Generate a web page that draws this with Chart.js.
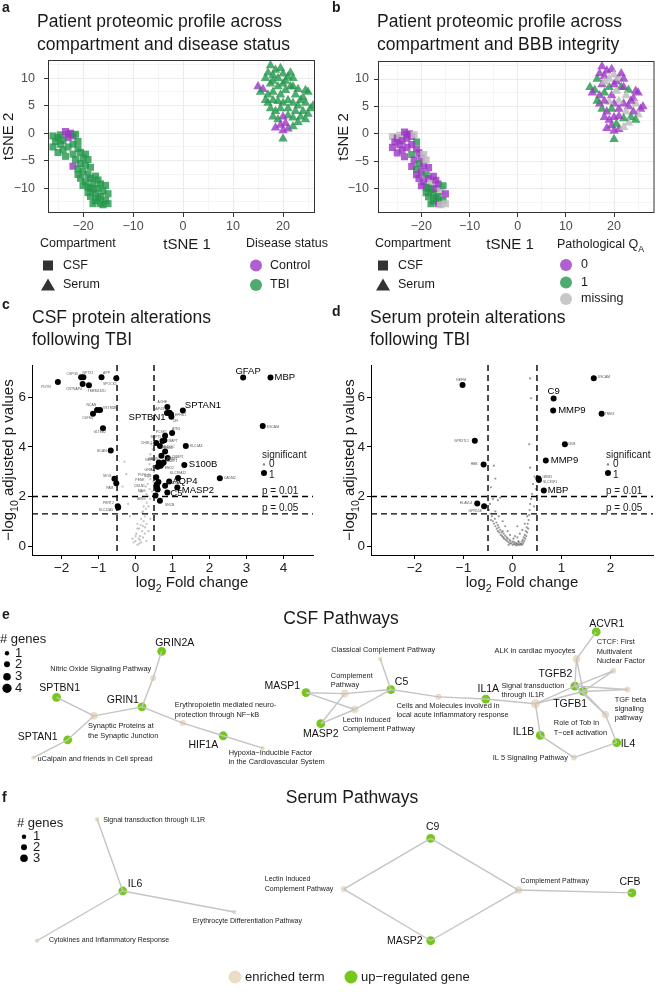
<!DOCTYPE html>
<html>
<head>
<meta charset="utf-8">
<script src="https://cdn.jsdelivr.net/npm/chart.js@4.4.1/dist/chart.umd.min.js"></script>
<style>
  body { margin: 0; background: #fff; }
  #page { position: relative; width: 660px; height: 992px; overflow: hidden; background: #fff; }
  canvas { position: absolute; }
</style>
</head>
<body>
<div id="page">
  <canvas id="pa" width="330" height="305" style="left:0;top:0"></canvas>
  <canvas id="pb" width="330" height="305" style="left:330px;top:0"></canvas>
  <canvas id="pc" width="330" height="310" style="left:0;top:300px"></canvas>
  <canvas id="pd" width="330" height="310" style="left:330px;top:300px"></canvas>
  <canvas id="pe" width="660" height="180" style="left:0;top:610px"></canvas>
  <canvas id="pf" width="660" height="202" style="left:0;top:790px"></canvas>
</div>
<script>
const FONT = '"Liberation Sans", Arial, Helvetica, sans-serif';
Chart.defaults.font.family = FONT;

// ---------- a / b : tSNE embedding ----------
const csfX = [-26,-25.5,-26,-25,-24.5,-25,-24,-23.5,-24.5,-23, -22.5,-23.5,-22,-23,-21.5,-21,-22,-21,-20.5,-22,
  -21.5,-20,-19.5,-20.5,-22,-21,-19.5,-19,-18.5,-20, -19,-20.5,-19.5,-18.5,-18,-17.5,-17,-19,-18,-19,
  -18.5,-17.5,-17,-16.5,-16,-15.5,-16.5,-17.5,-16.5,-15.5, -15,-15,-18,-16,-17,-18.5,-20,-21,-23,-24];
const csfY = [-0.5,-1.5,-2.5,-0.8,-2,-3.5,-3,-4.2,-0.3,-0.2, 0,0.3,-0.5,-0.8,-0.2,-1.5,-2,-2.8,-3.5,-3.8,
  -4.8,-4.5,-3.8,-5.5,-6,-6.5,-5.8,-4.8,-6.2,-7, -7.5,-8.2,-8.8,-8.2,-9,-7.8,-8.5,-9.8,-10.2,-10.8,
  -11.5,-11,-10,-9.2,-10.5,-9.5,-11.5,-12.3,-12.8,-12.2, -11,-12.8,-12.8,-13,-11.8,-10,-9.5,-7.5,-2.5,-1.3];
const csfStatus = ['T','T','T','T','T','T','T','T','T','C', 'C','C','C','C','T','T','T','T','T','T',
  'T','T','T','T','C','T','T','T','T','T', 'T','T','T','T','T','T','T','T','T','T',
  'T','T','T','T','T','T','T','T','T','T', 'T','T','T','T','T','T','T','T','T','T'];
const csfQA = ['N','0','0','0','0','0','0','0','N','0', '0','0','0','0','N','1','0','0','0','1',
  '0','0','N','1','0','1','0','N','0','0', '1','0','0','0','N','0','0','1','1','1',
  '1','1','0','0','N','1','1','1','0','1', '0','N','1','N','1','1','0','0','0','0'];

const serumX = [15,16,15.5,16.5,17,17.5,18,17.5,18.5,19, 19.5,20,20.5,21,22,21.5,19,18,17,19.5,
  20.5,22,23,22.5,24,25,24.5,25.5,26,25, 24,23,22,21,20,19,18,17.5,18.5,19.5,
  21,22.5,23.5,24.5,23,22,21,20,19,18.5, 19.5,20,21,20.5,22,20,18,17,16.5,23.5, 24.5,21.5,18,20];
const serumY = [8.5,8,7.5,10,11,12.3,10.5,9,11.5,10, 11.8,10.8,9.5,10.2,10,8.5,8.5,7.5,7,7,
  7.8,8.5,8,7,6.5,7.5,5.5,4.5,5,3.5, 4,5,5.5,6,5.5,5.8,6,4.5,4,4.5,
  4.5,4,3,2.5,2,2.8,3.2,3,2.5,1, 1.5,0.5,0.8,1.8,1.2,-1,3,5.5,6,6, 7.8,11,9.5,9];
const serumStatus = ['C','C','T','T','T','T','T','T','T','T', 'T','T','T','T','T','T','T','T','T','T',
  'T','T','T','T','T','T','T','T','T','T', 'T','T','T','T','T','T','T','T','T','T',
  'T','T','T','T','T','T','T','C','T','C', 'C','C','C','C','T','T','T','T','T','T', 'T','T','T','T'];
const serumQA = ['1','1','0','1','0','0','0','0','0','N', '0','N','0','N','0','1','1','1','0','0',
  'N','0','1','N','0','0','N','0','0','N', '0','0','0','N','0','N','0','1','0','1',
  '0','N','1','1','N','1','0','0','0','0', '0','0','0','1','N','1','0','0','1','0', '0','0','N','0'];

// ---------- c / d : volcano plots ----------
const fcCut = [-0.5, 0.5];
const pCut = [2, 1.3];

const csfNsLfc = [0.05,0.1,0.0,0.08,0.15,0.12,0.02,0.18,0.1,0.2, 0.05,0.22,0.15,0.25,0.18,0.28,0.22,0.3,0.25,0.35,
  0.3,0.38,0.33,0.4,0.36,0.42,0.38,0.45,0.4,0.46, 0.43,0.48,0.5,-0.05,-0.08,0.0,0.12,0.2,0.25,0.3,
  0.32,0.14,0.26,0.35,0.4,0.45,0.2,0.28,0.34,-0.25, -0.35,-0.2,-0.15,-0.3,0.1,0.15,0.48,0.5,0.47,0.05, 0.3,0.35,0.4];
const csfNsP = [0.05,0.1,0.2,0.3,0.15,0.4,0.5,0.6,0.7,0.8, 0.9,1.0,1.1,1.2,1.35,1.5,1.6,1.75,1.9,2.0,
  2.1,2.3,2.5,2.7,2.9,3.1,3.3,3.5,3.7,3.9, 4.1,4.4,5.1,0.15,0.3,0.4,0.25,0.35,0.5,0.9,
  1.3,0.85,0.75,1.6,1.9,2.2,1.4,2.4,2.8,2.9, 2.4,1.7,1.2,3.4,1.9,2.2,2.6,3.0,3.2,0.7, 0.2,0.6,1.1];

const csfSigGene = ['PDYN','CSPG5','NPTX1','APP','SPOCK1','CNTNAP4','TMEM132D','NCAN','VSTM2B','OLFM1','GLT8D2','BCAN','MOG','PAM','PRRT2','SLC12A5',
  'ACHE','SPTAN1','GAP43','SPTBN1','EFHD1','CFI','ATN1','PCSK1','SEPT5','MAPT','SLC1A3','CHI3L1','ALDOC','TUBB3','CRMP1','NRGN','NEFM','ENO2','GRIA2','BASP1',
  'PEBP1','S100B','CADM2','SLC39A12','AQP4','MASP2','COL6A1','PENK','CBLN1','MAG','PLP1','C5','SNCB','NTM','VTN','GFAP','MBP','DSCAM'];
const csfSigLfc = [-2.10,-1.47,-1.41,-0.92,-0.52,-1.43,-1.26,-1.04,-0.96,-1.15,-0.88,-0.67,-0.57,-0.52,-0.48,-0.47,
  0.86,1.28,0.85,0.92,0.96,0.97,0.99,0.80,0.78,0.73,1.36,0.56,0.66,0.80,0.87,0.70,0.63,0.68,0.60,0.72,
  0.76,1.32,2.28,1.15,0.91,1.13,0.80,0.57,0.58,0.60,0.62,0.86,0.66,0.56,0.54,2.91,3.65,3.44];
const csfSigP = [6.61,6.81,6.81,6.81,6.77,6.53,6.48,5.49,5.49,5.33,4.75,3.85,2.71,2.53,1.61,1.55,
  5.61,5.47,5.36,5.37,5.31,5.21,4.56,4.45,4.27,4.24,4.03,4.16,4.03,3.81,3.55,3.64,3.37,3.24,3.20,3.32,
  3.37,3.27,2.73,2.74,2.60,2.36,2.43,2.48,2.38,2.28,2.58,2.16,1.83,2.77,2.04,6.80,6.80,4.84];

const serumNsLfc = [-0.48,-0.45,-0.42,-0.44,-0.4,-0.38,-0.36,-0.35,-0.33,-0.32, -0.3,-0.3,-0.28,-0.27,-0.25,-0.24,-0.22,-0.21,-0.2,-0.19,
  -0.18,-0.17,-0.15,-0.14,-0.12,-0.11,-0.1,-0.08,-0.06,-0.05, -0.04,-0.02,0,0.01,0.03,0.04,0.06,0.07,0.09,0.1,
  0.12,0.13,0.15,0.16,0.18,0.19,0.2,0.21,0.22,0.23, 0.24,0.25,0.26,0.27,0.28,0.29,0.3,0.31,0.32,0.33,
  0.34,0.35,0.36,0.38,0.4,0.42,0.45,0.48,0.36,0.34, 0.38,0.36,-0.38,-0.35,-0.44,-0.4,-0.3,-0.25,-0.46,-0.35,
  -0.2,-0.1,0.05,0.15,-0.15,0.1,-0.05,0.2,-0.28,0.12, -0.08,0.02,0.3,0.25,0.44,0.1];
const serumNsP = [1.45,1.3,1.2,1.05,1.0,0.9,1.1,0.8,0.95,0.7, 0.85,0.6,0.75,0.55,0.65,0.45,0.55,0.4,0.6,0.35,
  0.5,0.3,0.42,0.25,0.35,0.2,0.3,0.15,0.25,0.1, 0.2,0.12,0.05,0.18,0.08,0.15,0.05,0.12,0.03,0.1,
  0.06,0.15,0.04,0.1,0.08,0.18,0.05,0.25,0.12,0.35, 0.2,0.45,0.3,0.6,0.4,0.75,0.55,0.9,0.7,1.05,
  1.25,1.45,1.7,1.9,2.1,2.5,2.8,2.3,3.16,4.1, 5.96,6.76,3.24,2.72,2.37,1.9,1.85,1.95,1.7,1.4,
  1.0,0.6,0.4,0.5,0.8,0.35,0.45,0.65,1.2,0.2, 0.05,0.3,1.2,0.9,1.6,0.8];

const serumSigGene = ['NEFM','GPR37L1','HBB','ELAVL4','GPR158','DSCAM','C9','MMP9','TNNI3','CKM','MMP9','GRM1','SLC35F1','MBP'];
const serumSigLfc = [-1.02,-0.77,-0.59,-0.72,-0.58,1.66,0.84,0.83,1.82,1.07,0.68,0.53,0.54,0.64];
const serumSigP = [6.49,4.25,3.29,1.72,1.61,6.77,5.95,5.47,5.33,4.11,3.45,2.72,2.66,2.24];

// ---------- e / f : pathway networks ----------
const eNodeId = ['GRIN2A','NOS','GRIN1','SPTBN1','SYN','SPTAN1','CALP','EPO','HIF1A','HYP','MASP1','MASP2','CLAS','COMP','LECT','C5',
  'CELL','IL1A','IL1R','IL1B','IL5','IL4','TOB','TGFB1','TGFB2','ALK','ACVR1','CTCF','TGFB'];
const eNodeLabel = ['GRIN2A','Nitric Oxide Signaling Pathway','GRIN1','SPTBN1','Synaptic Proteins at\nthe Synaptic Junction','SPTAN1',
  'uCalpain and friends in Cell spread','Erythropoietin mediated neuro-\nprotection through NF\u2212kB','HIF1A',
  'Hypoxia\u2212Inducible Factor\nin the Cardiovascular System','MASP1','MASP2','Classical Complement Pathway','Complement\nPathway',
  'Lectin Induced\nComplement Pathway','C5','Cells and Molecules involved in\nlocal acute inflammatory response','IL1A',
  'Signal transduction\nthrough IL1R','IL1B','IL 5 Signaling Pathway','IL4','Role of Tob in\nT\u2212cell activation','TGFB1','TGFB2',
  'ALK in cardiac myocytes','ACVR1','CTCF: First\nMultivalent\nNuclear Factor','TGF beta\nsignaling\npathway'];
const eNodeGenes = [0,2,0,0,3,0,1,2,0,1,0,0,1,3,3,0,2,0,4,0,2,0,3,0,0,3,0,2,2]; // 0 = gene node
const eNodeX = [159.3,150.7,139.3,52.7,90.7,64,29.3,180.7,221.7,261.7,305.7,320.7,381,345,355,391.7,
  440,488,538.3,543.3,577.3,620.7,609.3,586.7,578.3,580,600,617.3,631.7];
const eNodeY = [648.7,676.7,707.3,697.3,716.7,742,760.7,724.3,737.7,750.7,692.3,725,656.7,693.3,710,689,
  696.7,699,704,737.3,760.7,745,715.3,691,685.3,656.7,628.3,669.3,689];
const eEdgeFrom = ['GRIN2A','NOS','GRIN1','GRIN1','SPTBN1','SPTAN1','SPTAN1','EPO','HIF1A',
  'MASP1','MASP1','MASP2','MASP2','COMP','LECT','CLAS','C5','CELL','IL1A','IL1R','IL1R','IL1R','IL1B','IL5',
  'ALK','ALK','ALK','CTCF','CTCF','TGFB','TGFB','TOB','TOB','TOB'];
const eEdgeTo = ['NOS','GRIN1','SYN','EPO','SYN','SYN','CALP','HIF1A','HYP',
  'COMP','LECT','COMP','LECT','C5','C5','C5','CELL','IL1A','IL1R','IL1B','TGFB1','TGFB2','IL5','IL4',
  'ACVR1','TGFB1','TGFB2','TGFB1','TGFB2','TGFB1','TGFB2','TGFB1','TGFB2','IL4'];

const fNodeId = ['SIG','IL6','ERY','CYT','LECT','C9','MASP2','COMP','CFB'];
const fNodeLabel = ['Signal transduction through IL1R','IL6','Erythrocyte Differentiation Pathway','Cytokines and Inflammatory Response',
  'Lectin Induced\nComplement Pathway','C9','MASP2','Complement Pathway','CFB'];
const fNodeGenes = [1,0,1,1,2,0,0,3,0];
const fNodeX = [94,120,233,33,344,432,432,521,636];
const fNodeY = [816,891,913,943,889,836,943,890,893];
const fEdgeFrom = ['SIG','IL6','IL6','LECT','LECT','C9','MASP2','COMP'];
const fEdgeTo = ['IL6','ERY','CYT','C9','MASP2','COMP','COMP','CFB'];

// ---------- helpers ----------
const PURPLE = 'rgba(155,55,195,0.8)', GREEN = 'rgba(35,150,75,0.8)', GREY = 'rgba(190,190,190,0.85)';
const TERM = '#EBDCC6', GENE = '#76C71C';

function num(v) { return v < 0 ? '\u2212' + Math.abs(v) : '' + v; }

function text(ctx, s, x, y, size, o = {}) {
  ctx.save();
  ctx.font = (o.weight || 'normal') + ' ' + size + 'px ' + FONT;
  ctx.fillStyle = o.color || '#1a1a1a';
  ctx.textAlign = o.align || 'left';
  ctx.textBaseline = 'middle';
  ctx.translate(x, y);
  if (o.rotate) ctx.rotate(o.rotate);
  ctx.fillText(s, 0, 0);
  ctx.restore();
}

function rich(ctx, parts, x, y, size, align, rot) {
  ctx.save();
  ctx.translate(x, y);
  if (rot) ctx.rotate(rot);
  const w = parts.map(p => { ctx.font = (p[1] ? size * 0.7 : size) + 'px ' + FONT; return ctx.measureText(p[0]).width; });
  const total = w.reduce((s, v) => s + v, 0);
  let cx = align === 'center' ? -total / 2 : 0;
  ctx.fillStyle = '#1a1a1a';
  ctx.textBaseline = 'middle';
  ctx.textAlign = 'left';
  parts.forEach((p, i) => {
    ctx.font = (p[1] ? size * 0.7 : size) + 'px ' + FONT;
    ctx.fillText(p[0], cx, p[1] ? size * 0.38 : 0);
    cx += w[i];
  });
  ctx.restore();
}

function keyShape(ctx, shape, x, y, color) {
  ctx.save();
  ctx.fillStyle = color;
  ctx.beginPath();
  if (shape === 'rect') ctx.rect(x - 5, y - 5, 10, 10);
  else if (shape === 'tri') { ctx.moveTo(x, y - 6.5); ctx.lineTo(x + 7, y + 5.5); ctx.lineTo(x - 7, y + 5.5); ctx.closePath(); }
  else ctx.arc(x, y, 6, 0, Math.PI * 2);
  ctx.fill();
  ctx.restore();
}

// ---------- tSNE panels ----------
function tsne(id, o) {
  const W = 330, H = 305, XH = 30;
  const [L, T, R, B] = o.area;
  new Chart(document.getElementById(id), {
    type: 'scatter',
    data: { datasets: [
      { data: csfX.map((x, i) => ({ x, y: csfY[i] })), pointStyle: 'rect', pointRadius: 5, borderWidth: 0,
        backgroundColor: c => o.pal[o.csfGroup[c.dataIndex]] || PURPLE },
      { data: serumX.map((x, i) => ({ x, y: serumY[i] })), pointStyle: 'triangle', pointRadius: 5.5, borderWidth: 0,
        backgroundColor: c => o.pal[o.serumGroup[c.dataIndex]] || PURPLE }
    ]},
    options: {
      responsive: false, animation: false, devicePixelRatio: 1,
      layout: { padding: { left: 0, top: T, right: W - R, bottom: H - B - XH } },
      plugins: { legend: { display: false }, tooltip: { enabled: false } },
      scales: {
        x: {
          min: o.xr[0], max: o.xr[1],
          afterFit: s => { s.height = XH; },
          ticks: { stepSize: 5, includeBounds: false, autoSkip: false, maxRotation: 0, padding: 2,
            color: '#4D4D4D', font: { size: 12.5 }, callback: v => v % 10 === 0 ? num(v) : '' },
          grid: { color: '#EBEBEB', lineWidth: c => (c.tick && c.tick.value % 10 === 0) ? 1 : 0.5,
            tickColor: c => (c.tick && c.tick.value % 10 === 0) ? '#333' : 'rgba(0,0,0,0)', tickLength: 4 },
          border: { display: false }
        },
        y: {
          min: -14.5, max: 13.3,
          afterFit: s => { s.width = L; },
          ticks: { stepSize: 2.5, includeBounds: false, autoSkip: false, padding: o.yPad,
            color: '#4D4D4D', font: { size: 12.5 }, callback: v => v % 5 === 0 ? num(v) : '' },
          grid: { color: '#EBEBEB', lineWidth: c => (c.tick && c.tick.value % 5 === 0) ? 1 : 0.5,
            tickColor: c => (c.tick && c.tick.value % 5 === 0) ? '#333' : 'rgba(0,0,0,0)', tickLength: 4 },
          border: { display: false }
        }
      }
    },
    plugins: [{
      id: 'deco',
      afterDraw(chart) {
        const ctx = chart.ctx, a = chart.chartArea;
        ctx.save();
        ctx.strokeStyle = '#333';
        ctx.lineWidth = 1;
        ctx.strokeRect(a.left + 0.5, a.top + 0.5, a.right - a.left - 1, a.bottom - a.top - 1);
        ctx.restore();
        text(ctx, o.letter, 2, 8, 14, { weight: 'bold' });
        o.title.forEach((t, i) => text(ctx, t, o.titleX, 22 + i * 23.5, 17.5));
        text(ctx, 'tSNE 2', o.yTitleX, (a.top + a.bottom) / 2, 15, { align: 'center', rotate: -Math.PI / 2 });
        text(ctx, 'tSNE 1', o.xTitleX, 245, 15, { align: 'center' });
        text(ctx, 'Compartment', o.legX - 8, 244, 12.5);
        keyShape(ctx, 'rect', o.legX, 265.5, '#333');
        keyShape(ctx, 'tri', o.legX, 285, '#333');
        text(ctx, 'CSF', o.legX + 15, 265.5, 12.5);
        text(ctx, 'Serum', o.legX + 15, 285, 12.5);
        o.legend2(ctx);
      }
    }]
  });
}

tsne('pa', {
  letter: 'a', area: [48, 60, 315, 213], xr: [-27, 26.4], yPad: 9,
  title: ['Patient proteomic profile across', 'compartment and disease status'], titleX: 37,
  yTitleX: 9, xTitleX: 187, legX: 48,
  pal: { C: PURPLE, T: GREEN }, csfGroup: csfStatus, serumGroup: serumStatus,
  legend2(ctx) {
    text(ctx, 'Disease status', 246, 244, 12.5);
    keyShape(ctx, 'circle', 256, 265.5, PURPLE);
    keyShape(ctx, 'circle', 256, 285, GREEN);
    text(ctx, 'Control', 270, 265.5, 12.5);
    text(ctx, 'TBI', 270, 285, 12.5);
  }
});

tsne('pb', {
  letter: 'b', area: [48, 61, 328, 213], xr: [-29, 28.4], yPad: 5,
  title: ['Patient proteomic profile across', 'compartment and BBB integrity'], titleX: 47,
  yTitleX: 14, xTitleX: 180, legX: 53,
  pal: { '0': PURPLE, '1': GREEN, N: GREY }, csfGroup: csfQA, serumGroup: serumQA,
  legend2(ctx) {
    rich(ctx, [['Pathological Q', 0], ['A', 1]], 227, 245, 12.5, 'left');
    keyShape(ctx, 'circle', 236, 265, PURPLE);
    keyShape(ctx, 'circle', 236, 282.5, GREEN);
    keyShape(ctx, 'circle', 236, 299, GREY);
    text(ctx, '0', 251, 265, 12.5);
    text(ctx, '1', 251, 282.5, 12.5);
    text(ctx, 'missing', 251, 299, 12.5);
  }
});

// ---------- volcano panels ----------
function volcano(id, o) {
  const W = 330, H = 310, XH = 20;
  const [L, T, R, B] = o.area;
  new Chart(document.getElementById(id), {
    type: 'scatter',
    data: { datasets: [
      { data: o.nsX.map((x, i) => ({ x, y: o.nsY[i] })), pointRadius: 1.1, backgroundColor: o.nsColor, borderWidth: 0 },
      { data: o.sigX.map((x, i) => ({ x, y: o.sigY[i] })), pointRadius: 3, backgroundColor: '#000', borderWidth: 0 }
    ]},
    options: {
      responsive: false, animation: false, devicePixelRatio: 1,
      layout: { padding: { left: 0, top: T, right: W - R, bottom: H - B - XH } },
      plugins: { legend: { display: false }, tooltip: { enabled: false } },
      scales: {
        x: {
          min: o.xr[0], max: o.xr[1],
          afterFit: s => { s.height = XH; },
          ticks: { stepSize: 1, includeBounds: false, autoSkip: false, maxRotation: 0, padding: 1,
            color: '#222', font: { size: 13.5 }, callback: v => num(v) },
          grid: { drawOnChartArea: false, tickLength: 4, tickColor: '#000', color: '#000' },
          border: { display: true, color: '#000', width: 1 }
        },
        y: {
          min: -0.36, max: 7.3,
          afterFit: s => { s.width = L; },
          ticks: { stepSize: 2, includeBounds: false, autoSkip: false, padding: 2,
            color: '#222', font: { size: 13.5 }, callback: v => num(v) },
          grid: { drawOnChartArea: false, tickLength: 4, tickColor: '#000', color: '#000' },
          border: { display: true, color: '#000', width: 1 }
        }
      }
    },
    plugins: [{
      id: 'deco',
      afterDatasetsDraw(chart) {
        const ctx = chart.ctx, a = chart.chartArea, sx = chart.scales.x, sy = chart.scales.y;
        ctx.save();
        ctx.strokeStyle = '#000';
        ctx.lineWidth = 1.4;
        ctx.setLineDash([6, 4]);
        fcCut.forEach(v => { const px = sx.getPixelForValue(v); ctx.beginPath(); ctx.moveTo(px, a.top); ctx.lineTo(px, a.bottom); ctx.stroke(); });
        pCut.forEach(v => { const py = sy.getPixelForValue(v); ctx.beginPath(); ctx.moveTo(a.left, py); ctx.lineTo(a.right, py); ctx.stroke(); });
        ctx.restore();
        o.genes.forEach((g, i) => {
          const p = o.labelPos[i] || [4, -4, 'left'];
          const big = o.big.includes(g);
          text(ctx, g, sx.getPixelForValue(o.sigX[i]) + p[0], sy.getPixelForValue(o.sigY[i]) + p[1],
            big ? 9.5 : 3.4, { align: p[2], color: big ? '#000' : '#555' });
        });
      },
      afterDraw(chart) {
        const ctx = chart.ctx, a = chart.chartArea;
        text(ctx, o.letter, 2, o.letterY, 14, { weight: 'bold' });
        o.title.forEach((t, i) => text(ctx, t, o.titleX, 18 + i * 22, 17.5));
        rich(ctx, [['\u2212log', 0], ['10', 1], [' adjusted p values', 0]], o.yTitleX, (a.top + a.bottom) / 2, 15, 'center', -Math.PI / 2);
        rich(ctx, [['log', 0], ['2', 1], [' Fold change', 0]], 192, 283, 15, 'center');
        const lx = o.legX;
        text(ctx, 'significant', lx, 155, 10);
        ctx.save();
        ctx.fillStyle = '#888'; ctx.beginPath(); ctx.arc(lx + 2, 164.5, 1.2, 0, Math.PI * 2); ctx.fill();
        ctx.fillStyle = '#000'; ctx.beginPath(); ctx.arc(lx + 2, 173, 3, 0, Math.PI * 2); ctx.fill();
        ctx.restore();
        text(ctx, '0', lx + 7, 164, 10);
        text(ctx, '1', lx + 7, 175, 10);
        text(ctx, 'p = 0.01', lx, 191.5, 10);
        text(ctx, 'p = 0.05', lx, 208.5, 10);
      }
    }]
  });
}

volcano('pc', {
  letter: 'c', letterY: 5, area: [32, 65, 313, 255], xr: [-2.8, 4.8],
  title: ['CSF protein alterations', 'following TBI'], titleX: 32, yTitleX: 9, legX: 262,
  nsX: csfNsLfc, nsY: csfNsP, nsColor: 'rgba(120,120,120,0.45)',
  sigX: csfSigLfc, sigY: csfSigP, genes: csfSigGene,
  big: ['SPTAN1','SPTBN1','S100B','AQP4','MASP2','C5','GFAP','MBP'],
  labelPos: [[-12,4.5,'center'],[-9,-3,'center'],[4.6,-4,'center'],[5,-4,'center'],[-6.4,6,'center'],[-8.7,5.3,'center'],[7.7,5.3,'center'],
    [-5.7,-4.7,'center'],[3,-1.4,'left'],[-5.3,4.6,'center'],[-3.3,4,'center'],[-4,0,'right'],[-3,-3,'right'],[-3,4.6,'right'],[-4,-3,'right'],[-5,2,'right'],
    [-5,-5,'center'],[2,-5.5,'left'],[-8.6,-4.3,'center'],[-4,5,'right'],[4,0.7,'left'],[4,4.3,'center'],[4,-4,'center'],[-3.7,-4,'center'],[-3,-2.6,'right'],
    [6,0,'left'],[4,0,'left'],[-4,0,'right'],[3,1,'left'],[2,-4,'center'],[4,-1.3,'left'],[-3,3.7,'right'],[-4,-2,'right'],[4,2,'left'],[-3,3,'right'],
    [4,-3,'left'],[3,-3,'left'],[4.5,-1,'left'],[4,0,'left'],[0,-5,'center'],[3,0,'left'],[4.5,3,'left'],[3,-3,'left'],[-12,-4,'right'],[-12,-1,'right'],
    [-12,2,'right'],[-12,-7,'right'],[3,1,'left'],[5,4,'left'],[-5,-1,'right'],[-12,4,'right'],[5,-6,'center'],[4,0,'left'],[4,1.5,'left']]
});

volcano('pd', {
  letter: 'd', letterY: 12, area: [41, 65, 323, 255], xr: [-2.89, 2.87],
  title: ['Serum protein alterations', 'following TBI'], titleX: 40, yTitleX: 20, legX: 276,
  nsX: serumNsLfc, nsY: serumNsP, nsColor: 'rgba(70,70,70,0.55)',
  sigX: serumSigLfc, sigY: serumSigP, genes: serumSigGene,
  big: ['C9','MMP9','MBP'],
  labelPos: [[-1.4,-5.4,'center'],[-6,0,'right'],[-6,0,'right'],[-5,0,'right'],[-9,4.5,'center'],[4,-1,'left'],[0,-7.5,'center'],
    [5,0,'left'],[3,0,'left'],[3,0,'left'],[5,0,'left'],[4,-2,'left'],[4,2,'left'],[4,0,'left']]
});

// ---------- pathway networks ----------
function network(id, o) {
  const idx = {};
  o.ids.forEach((n, i) => { idx[n] = i; });
  const pt = n => ({ x: o.nx[idx[n]], y: o.ny[idx[n]] });
  const rad = g => g === 0 ? 4.4 : [0, 2.2, 3.0, 3.8, 4.6][g];
  const edges = o.from.map((f, i) => ({
    data: [pt(f), pt(o.to[i])], showLine: true, borderColor: '#C4C4C4', borderWidth: 1.4, pointRadius: 0
  }));
  new Chart(document.getElementById(id), {
    type: 'scatter',
    data: { datasets: [...edges, {
      data: o.ids.map(n => pt(n)), showLine: false, borderWidth: 0,
      pointRadius: c => rad(o.genes[c.dataIndex] || 0),
      backgroundColor: c => (o.genes[c.dataIndex] || 0) === 0 ? GENE : TERM
    }]},
    options: {
      responsive: false, animation: false, devicePixelRatio: 1,
      layout: { padding: 0 },
      plugins: { legend: { display: false }, tooltip: { enabled: false } },
      scales: {
        x: { display: false, min: 0, max: 660 },
        y: { display: false, min: o.yr[0], max: o.yr[1], reverse: true }
      }
    },
    plugins: [{
      id: 'deco',
      afterDatasetsDraw(chart) {
        const ctx = chart.ctx, sx = chart.scales.x, sy = chart.scales.y;
        o.ids.forEach((n, i) => {
          const p = o.labelPos[n];
          const isGene = o.genes[i] === 0;
          const lines = o.labels[i].split('\n');
          const px = sx.getPixelForValue(o.nx[i]) + p[0], py = sy.getPixelForValue(o.ny[i]) + p[1];
          lines.forEach((l, k) => text(ctx, l, px, py + k * o.lh, isGene ? 10.5 : o.termSize, { align: p[2], color: isGene ? '#111' : '#222' }));
        });
      },
      afterDraw(chart) { o.extra(chart.ctx); }
    }]
  });
}

function geneKey(ctx, x, ys, lx, ty) {
  text(ctx, '# genes', x - 7, ty, 13);
  ys.forEach((y, i) => {
    ctx.save(); ctx.fillStyle = '#000'; ctx.beginPath(); ctx.arc(x, y, [2.2, 3.0, 3.8, 4.6][i], 0, Math.PI * 2); ctx.fill(); ctx.restore();
    text(ctx, String(i + 1), lx, y, 13);
  });
}

network('pe', {
  ids: eNodeId, labels: eNodeLabel, genes: eNodeGenes, nx: eNodeX, ny: eNodeY, from: eEdgeFrom, to: eEdgeTo,
  yr: [610, 790], termSize: 7.4, lh: 9.3,
  labelPos: {
    GRIN2A: [13,-8,'center'], NOS: [-2,-9,'right'], GRIN1: [-3,-7,'right'], SPTBN1: [3,-9,'center'], SYN: [-6,10.6,'left'],
    SPTAN1: [-10,-3,'right'], CALP: [4,1,'left'], EPO: [-8,-17.6,'left'], HIF1A: [-5,9,'right'], HYP: [-34,5,'left'],
    MASP1: [-6,-7,'right'], MASP2: [0,10,'center'], CLAS: [3,-9,'center'], COMP: [-14,-18,'left'], LECT: [-12,10,'left'],
    C5: [4,-7,'left'], CELL: [-42,9.3,'left'], IL1A: [2.5,-10,'center'], IL1R: [-34,-18,'left'], IL1B: [-6,-3,'right'],
    IL5: [-6,0,'right'], IL4: [4,1,'left'], TOB: [-51.6,8.7,'left'], TGFB1: [-13,13,'center'], TGFB2: [-19.5,-12,'center'],
    ALK: [-1,-7.7,'right'], ACVR1: [10.5,-7.6,'center'], CTCF: [-16.6,-28.6,'left'], TGFB: [-12.7,10.3,'left']
  },
  extra(ctx) {
    text(ctx, 'e', 2, 5, 14, { weight: 'bold' });
    text(ctx, 'CSF Pathways', 341, 9, 17.5, { align: 'center' });
    geneKey(ctx, 7, [43.3, 54.3, 66.7, 78.3], 15, 29);
  }
});

network('pf', {
  ids: fNodeId, labels: fNodeLabel, genes: fNodeGenes, nx: fNodeX, ny: fNodeY, from: fEdgeFrom, to: fEdgeTo,
  yr: [790, 992], termSize: 7, lh: 10,
  labelPos: {
    SIG: [6,1,'left'], IL6: [5,-7,'left'], ERY: [13,9,'center'], CYT: [12,-1,'left'], LECT: [-79,-10,'left'],
    C9: [2,-11,'center'], MASP2: [-8,0,'right'], COMP: [2,-9,'left'], CFB: [-2,-11,'center']
  },
  extra(ctx) {
    text(ctx, 'f', 2, 8, 14, { weight: 'bold' });
    text(ctx, 'Serum Pathways', 352, 8, 17.5, { align: 'center' });
    geneKey(ctx, 24, [46.7, 57.3, 68.3], 33, 33);
    ctx.save();
    ctx.fillStyle = TERM; ctx.beginPath(); ctx.arc(235, 187, 6.5, 0, Math.PI * 2); ctx.fill();
    ctx.fillStyle = GENE; ctx.beginPath(); ctx.arc(351, 187, 6.5, 0, Math.PI * 2); ctx.fill();
    ctx.restore();
    text(ctx, 'enriched term', 245, 187, 13);
    text(ctx, 'up\u2212regulated gene', 361, 187, 13);
  }
});
</script>
</body>
</html>
